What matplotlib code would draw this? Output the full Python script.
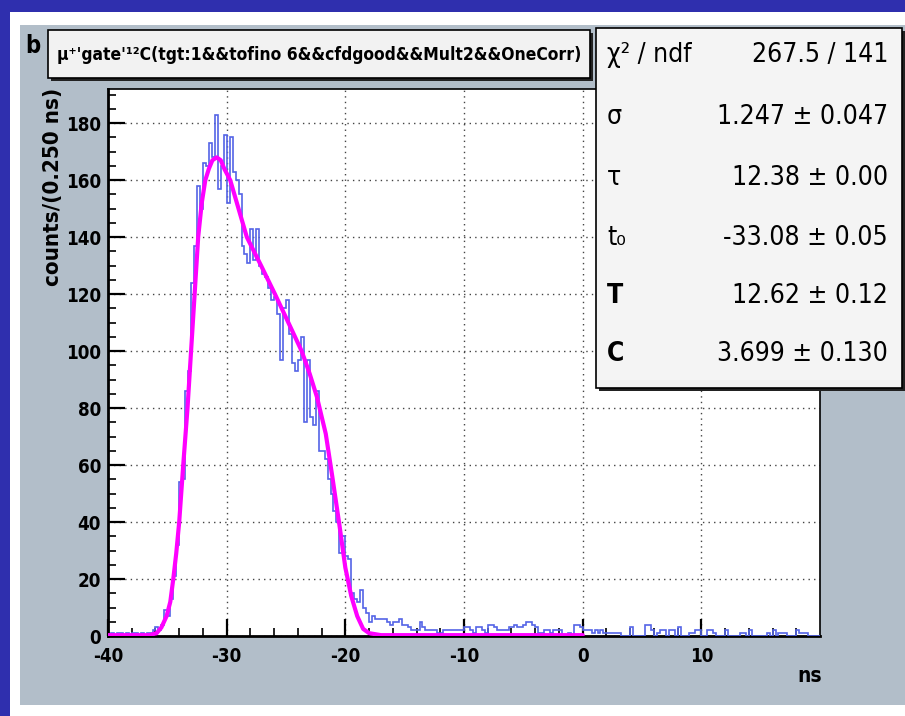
import matplotlib
matplotlib.use("Agg")
import matplotlib.pyplot as plt
from matplotlib.patches import Rectangle
from matplotlib import font_manager
from matplotlib.font_manager import FontProperties
import numpy as np

# histogram counts, 0.25 ns bins from -40 to 20 ns (one row = 2 ns)
counts = [
    0, 1, 0, 1, 1, 0, 1, 0,
    1, 1, 0, 1, 0, 1, 1, 2,
    3, 2, 4, 9, 7, 13, 21, 32,
    54, 55, 86, 93, 124, 137, 158, 150,
    166, 165, 173, 168, 183, 157, 165, 176,
    152, 175, 163, 160, 155, 137, 134, 131,
    143, 132, 143, 130, 127, 126, 122, 118,
    119, 113, 97, 115, 118, 106, 96, 93,
    97, 105, 75, 97, 77, 74, 86, 65,
    65, 62, 55, 50, 44, 40, 29, 35,
    28, 27, 15, 13, 12, 16, 10, 8,
    5, 7, 6, 6, 6, 6, 5, 4,
    5, 5, 6, 4, 4, 3, 2, 2,
    2, 5, 3, 2, 2, 2, 2, 1,
    1, 2, 2, 2, 2, 2, 2, 2,
    3, 3, 2, 1, 3, 3, 2, 1,
    4, 4, 3, 2, 2, 2, 2, 3,
    3, 4, 3, 3, 4, 5, 5, 4,
    3, 1, 1, 2, 2, 1, 2, 2,
    2, 0, 0, 1, 0, 4, 4, 3,
    2, 2, 2, 1, 2, 1, 2, 1,
    1, 1, 1, 1, 1, 0, 0, 0,
    3, 0, 0, 0, 0, 4, 4, 2,
    0, 1, 2, 2, 0, 2, 2, 0,
    3, 0, 0, 0, 1, 1, 2, 2,
    0, 0, 2, 2, 1, 0, 0, 0,
    2, 0, 0, 0, 0, 1, 1, 0,
    2, 0, 0, 0, 0, 0, 1, 0,
    2, 0, 1, 1, 1, 0, 0, 0,
    2, 1, 1, 1, 0, 0, 0, 0,
]
t_min, t_max = -40.0, 20.0

# fitted curve
fit_t = [-40, -36.5, -35.9, -35.5, -35.06, -34.75, -34.5, -34.25, -34.0, -33.66,
         -33.3, -33.0, -32.7, -32.4, -32.1, -31.8, -31.5, -31.2, -30.84, -30.5,
         -30.2, -29.7, -29.0, -28.3, -27.1, -25.93, -24.8, -23.68, -23.0, -22.4,
         -21.65, -21.1, -20.5, -20.0, -19.5, -19.0, -18.5, -18.0, -17.0, 0]
fit_v = [0.3, 0.3, 1, 3, 7, 12, 20, 29, 40, 60,
         80, 100, 120, 140, 152, 160, 164, 167, 168, 167,
         164, 160, 150, 140, 130, 120, 110, 100, 92, 84,
         71, 56, 39, 24, 14, 7, 2.5, 1, 0.3, 0.3]

stat_names = ["\u03c7\u00b2 / ndf", "\u03c3", "\u03c4", "t\u2080", "T", "C"]
stat_values = ["267.5 / 141", "1.247 \u00b1 0.047", "12.38 \u00b1 0.00",
               "-33.08 \u00b1 0.05", "12.62 \u00b1 0.12", "3.699 \u00b1 0.130"]

title_text = "\u03bc\u207a'gate'\u00b9\u00b2C(tgt:1&&tofino 6&&cfdgood&&Mult2&&OneCorr)"
y_label = "counts/(0.250 ns)"
x_label = "ns"


def condensed_file(bold):
    # look for a narrow sans face (ROOT plots use a squeezed Helvetica)
    best = None
    for f in font_manager.fontManager.ttflist:
        if f.style != "normal":
            continue
        is_bold = int(f.weight) >= 600 if str(f.weight).isdigit() else "bold" in str(f.weight)
        if is_bold != bold:
            continue
        if f.name == "Liberation Sans Narrow":
            return f.fname
        if f.name.startswith("DejaVu Sans") and ("ondensed" in f.fname) and "Mono" not in f.fname:
            best = f.fname
    return best


reg_file = condensed_file(False)
bold_file = condensed_file(True)


def fp(size, bold=False):
    path = bold_file if bold else reg_file
    if path:
        return FontProperties(fname=path, size=size)
    return FontProperties(family="Liberation Sans", size=size * 0.92,
                          weight="bold" if bold else "normal")


plt.rcParams["font.family"] = ["DejaVu Sans"]
plt.rcParams["axes.unicode_minus"] = False

W, H = 905, 716


def fx(px):
    return px / W


def fy(py):
    return 1 - py / H


fig = plt.figure(figsize=(W / 100, H / 100), dpi=100)
fig.patch.set_facecolor("#2f2fae")

# slide + canvas background
fig.add_artist(Rectangle((fx(10), 0), 1 - fx(10), fy(12), transform=fig.transFigure,
                         facecolor="white", edgecolor="none", zorder=-3))
fig.add_artist(Rectangle((fx(20), fy(705)), 1 - fx(20), fy(25) - fy(705),
                         transform=fig.transFigure, facecolor="#b2bec9",
                         edgecolor="none", zorder=-2))

ax = fig.add_axes([fx(108), fy(636), fx(820) - fx(108), fy(89) - fy(636)])
ax.set_facecolor("white")

edges = np.linspace(t_min, t_max, len(counts) + 1)
ax.stairs(counts, edges, color="#5464e6", lw=1.2, zorder=3)
ax.plot(fit_t, fit_v, color="#ff00ff", lw=3, zorder=4, solid_capstyle="round")

ax.set_xlim(t_min, t_max)
ax.set_ylim(0, 192)
ax.set_xticks(np.arange(-40, 11, 10))
ax.set_xticks(np.arange(-40, 20, 2), minor=True)
ax.set_yticks(np.arange(0, 181, 20))
ax.set_yticks(np.arange(0, 191, 5), minor=True)
ax.grid(True, which="major", color="#444444", linestyle=(0, (1, 3)), lw=1)
ax.set_axisbelow(True)

ax.tick_params(axis="both", which="major", direction="in", length=12, width=1.6)
ax.tick_params(axis="x", which="major", pad=8)
ax.tick_params(axis="y", which="major", pad=5)
ax.tick_params(axis="both", which="minor", direction="in", length=6, width=1.2)
for lbl in ax.get_xticklabels() + ax.get_yticklabels():
    lbl.set_fontproperties(fp(13.5, bold=True))

for side in ["left", "bottom"]:
    ax.spines[side].set_linewidth(2)
for side in ["top", "right"]:
    ax.spines[side].set_linewidth(1.2)

fig.text(fx(53), fy(88), y_label, rotation=90, ha="center", va="top",
         fontproperties=fp(16, bold=True))
fig.text(fx(822), fy(676), x_label, ha="right", va="center",
         fontproperties=fp(15, bold=True))

# title box with shadow
fig.add_artist(Rectangle((fx(51), fy(81)), fx(593) - fx(51), fy(33) - fy(81),
                         transform=fig.transFigure, facecolor="#222222",
                         edgecolor="none", zorder=5))
fig.add_artist(Rectangle((fx(48), fy(78)), fx(590) - fx(48), fy(30) - fy(78),
                         transform=fig.transFigure, facecolor="#f2f2f2",
                         edgecolor="black", lw=1.2, zorder=6))
fig.text(fx(319), fy(55), title_text, ha="center", va="center",
         fontproperties=fp(12.5, bold=True), zorder=7)
fig.text(fx(33), fy(46), "b", ha="center", va="center",
         fontproperties=fp(17, bold=True), zorder=7)

# fit statistics box
fig.add_artist(Rectangle((fx(599), fy(391)), fx(905) - fx(599), fy(31) - fy(391),
                         transform=fig.transFigure, facecolor="#222222",
                         edgecolor="none", zorder=5))
fig.add_artist(Rectangle((fx(596), fy(388)), fx(902) - fx(596), fy(28) - fy(388),
                         transform=fig.transFigure, facecolor="#f4f4f4",
                         edgecolor="black", lw=1.2, zorder=6))
row_y = [55, 117, 178, 238, 296, 354]
for i, (name, val) in enumerate(zip(stat_names, stat_values)):
    bold = name in ("T", "C")
    fig.text(fx(607), fy(row_y[i]), name, ha="left", va="center",
             fontproperties=fp(19, bold=bold), zorder=7)
    fig.text(fx(888), fy(row_y[i]), val, ha="right", va="center",
             fontproperties=fp(19), zorder=7)

fig.savefig("out.png", dpi=100, facecolor=fig.get_facecolor())
